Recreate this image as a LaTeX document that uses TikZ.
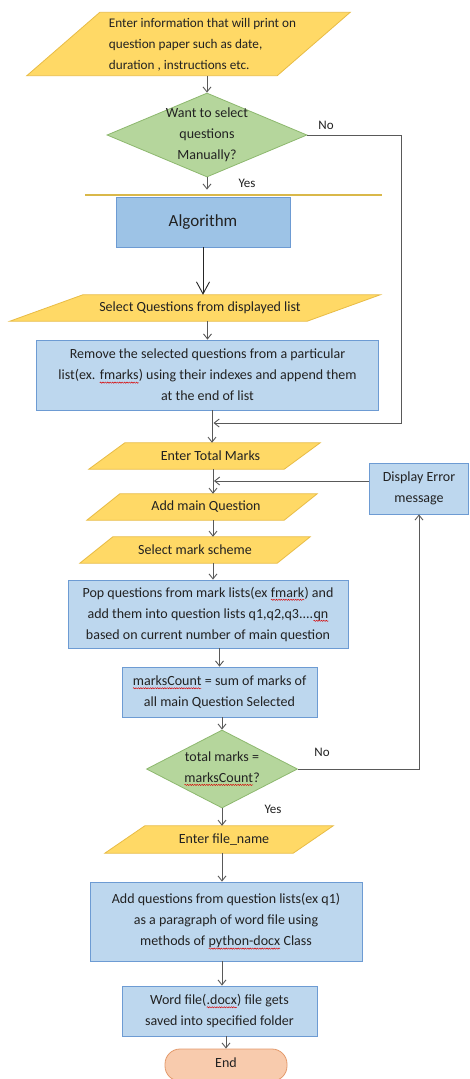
\documentclass[tikz,border=0pt]{standalone}
\usepackage{fontspec}
\setmainfont{Carlito}
\usetikzlibrary{shapes.geometric,arrows.meta,backgrounds,calc,decorations.pathmorphing}
\definecolor{ioFill}{HTML}{FFD966}
\definecolor{ioLine}{HTML}{E8BC45}
\definecolor{strayLine}{HTML}{D9B84A}
\definecolor{decFill}{HTML}{B5D69C}
\definecolor{decLine}{HTML}{8DB86E}
\definecolor{algFill}{HTML}{9DC3E6}
\definecolor{boxFill}{HTML}{BDD7EE}
\definecolor{boxLine}{HTML}{6D9BD3}
\definecolor{endFill}{HTML}{F8CBAD}
\definecolor{endLine}{HTML}{E39A6C}
\definecolor{conn}{HTML}{595959}
\definecolor{txt}{HTML}{222222}
\newcommand\redwave[1]{\tikz[baseline=(w.base),x=1pt,y=1pt]{\node[rectangle,minimum width=0pt,minimum height=0pt,inner sep=0pt,outer sep=0pt,anchor=base,draw=none,fill=none] (w) {#1};
  \draw[red!85!black, line width=0.45pt, sharp corners, decorate, decoration={snake,amplitude=0.6pt,segment length=2.4pt}] ([yshift=-2.8pt]w.base west) -- ([yshift=-2.8pt]w.base east);}}
\newcommand\ztext[2]{\raisebox{#1}{\smash{\makebox[0pt]{\begin{tabular}{@{}c@{}}#2\end{tabular}}}}}
\newcommand\iobgdraw[2]{\path[iobg] (#1.south west) -- ($(#1.south east)+(-#2,0)$) -- (#1.north east) -- ($(#1.north west)+(#2,0)$) -- cycle;}
\tikzset{
  base/.style={font=\fontsize{14}{21}\selectfont, text=txt, inner sep=0pt, align=center},
  io/.style={base, rectangle, minimum height=26pt},
  iobg/.style={fill=ioFill, draw=ioLine, line width=0.8pt},
  procbox/.style={base, rectangle, fill=boxFill, draw=boxLine, line width=0.8pt},
  algbox/.style={procbox, fill=algFill, font=\fontsize{17}{20}\selectfont},
  decision/.style={base, diamond, fill=decFill, draw=decLine, line width=0.8pt},
  term/.style={base, rectangle, rounded corners=15pt, fill=endFill, draw=endLine, line width=0.8pt},
  arr/.style={draw=conn, line width=0.9pt, -{Straight Barb[length=5pt,width=8pt]}},
  bigarr/.style={draw=black!85, line width=0.9pt, -{Straight Barb[length=12pt,width=13pt]}},
  lbl/.style={font=\fontsize{13}{15}\selectfont, text=txt, inner sep=0pt},
}
\begin{document}
\begin{tikzpicture}[x=1pt,y=-1pt]
\useasboundingbox (0,0) rectangle (470,1079);
% nodes
\node[io, font=\fontsize{13.2}{21}\selectfont, minimum width=323pt, minimum height=62pt] (n1) at (188.5,44)
  {\hspace*{28pt}\begin{tabular}{@{}l@{}}Enter information that will print on\\question paper such as date,\\duration , instructions etc.\end{tabular}};
\node[decision, minimum width=200pt, minimum height=84pt] (d1) at (207,135)
  {\ztext{-5pt}{Want to select\\questions\\Manually?}};
\node[algbox, minimum width=174pt, minimum height=50pt] (alg) at (203,222) {Algorithm};
\node[io, minimum width=370pt] (sel) at (195,308) {\hspace*{10pt}Select Questions from displayed list};
\node[procbox, minimum width=342pt, minimum height=70pt] (rem) at (207.5,375)
  {Remove the selected questions from a particular\\list(ex. \redwave{fmarks}) using their indexes and append them\\at the end of list};
\node[io, minimum width=231pt] (etm) at (204.5,456) {\hspace*{12pt}Enter Total Marks};
\node[procbox, minimum width=99pt, minimum height=51pt] (err) at (419,488.5) {Display Error\\message};
\node[io, minimum width=230pt] (amq) at (202,507) {\hspace*{8pt}Add main Question};
\node[io, minimum width=230pt] (sms) at (195,550) {Select mark scheme};
\node[procbox, minimum width=280pt, minimum height=68pt] (pop) at (208,614)
  {Pop questions from mark lists(ex \redwave{fmark}) and\\add them into question lists q1,q2,q3....\redwave{qn}\\based on current number of main question};
\node[procbox, minimum width=195pt, minimum height=50pt] (mc) at (219.5,692)
  {\redwave{marksCount} = sum of marks of\\all main Question Selected};
\node[decision, minimum width=151pt, minimum height=78pt] (d2) at (222,769)
  {\ztext{-4pt}{total marks =\\\redwave{marksCount}?}};
\node[io, minimum width=228pt, minimum height=27pt] (efn) at (219,839.5) {\hspace*{10pt}Enter file\_name};
\node[procbox, minimum width=272pt, minimum height=79pt] (addq) at (226,921.5)
  {Add questions from question lists(ex q1)\\as a paragraph of word file using\\methods of \redwave{python-docx} Class};
\node[procbox, minimum width=195pt, minimum height=50pt] (word) at (219.5,1011)
  {Word file(\redwave{.docx}) file gets\\saved into specified folder};
\node[term, minimum width=122pt, minimum height=32pt] (endn) at (226,1065) {\raisebox{5pt}{End}};
% parallelogram shapes
\begin{scope}[on background layer]
  \fill[white] (0,0) rectangle (470,1079);
  \iobgdraw{n1}{73}
  \iobgdraw{sel}{73}
  \iobgdraw{etm}{36}
  \iobgdraw{amq}{33}
  \iobgdraw{sms}{33}
  \iobgdraw{efn}{40}
  \draw[draw=strayLine, line width=1.3pt] (85,195) -- (382,195);
\end{scope}
% labels
\node[lbl] (no1) at (326,125) {No};
\node[lbl] (yes1) at (247,183) {Yes};
\node[lbl] (no2) at (322,752) {No};
\node[lbl] (yes2) at (273,809) {Yes};
% helper coordinates
\coordinate (j1) at (212,423);
\coordinate (j2) at (213,481);
\coordinate (c1) at (401,135);
% connectors
\draw[arr] (n1.south -| d1.north) -- (d1.north);
\draw[arr, shorten >=7pt] (d1.south) -- (d1.south |- alg.north);
\draw[bigarr] (alg.south) -- (alg.south |- sel.north);
\draw[arr] (sel.south -| rem.north) -- (rem.north);
\draw[arr] (rem.south -| j1) -- (etm.north -| j1);
\draw[arr, shorten >=1.5pt] (d1.east) -- (c1) -- (c1 |- j1) -- (j1);
\draw[arr] (etm.south -| j2) -- (amq.north -| j2);
\draw[arr, shorten >=1pt] (err.west |- j2) -- (j2);
\draw[arr] (amq.south -| j2) -- (sms.north -| j2);
\draw[arr] (sms.south -| j2) -- (pop.north -| j2);
\draw[arr] (pop.south -| mc.north) -- (mc.north);
\draw[arr] (mc.south -| d2.north) -- (d2.north);
\draw[arr] (d2.south) -- (d2.south |- efn.north);
\draw[arr] (efn.south -| d2.south) -- (addq.north -| d2.south);
\draw[arr] (addq.south -| d2.south) -- (word.north -| d2.south);
\draw[arr] (word.south -| endn.north) -- (endn.north);
\draw[arr] (d2.east) -| (err.south);
\end{tikzpicture}
\end{document}
